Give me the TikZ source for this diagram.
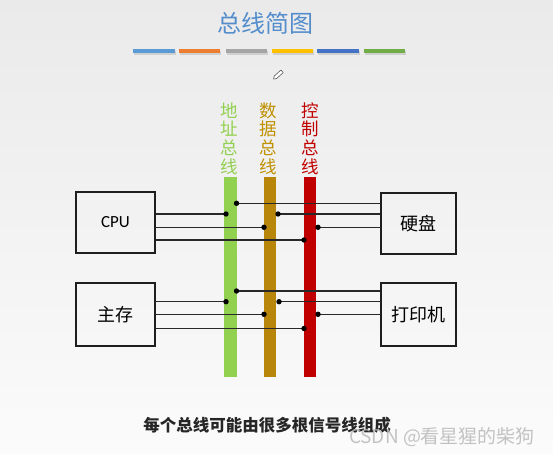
\documentclass[tikz,border=0pt]{standalone}
\usepackage{fontspec}
\setmainfont{Carlito}
\newfontfamily\cjk{Noto Sans CJK SC}
\definecolor{ttl}{RGB}{84,141,204}
\definecolor{cA}{RGB}{91,155,213}
\definecolor{cB}{RGB}{237,125,49}
\definecolor{cC}{RGB}{165,165,165}
\definecolor{cD}{RGB}{255,192,0}
\definecolor{cE}{RGB}{68,114,196}
\definecolor{cF}{RGB}{112,173,71}
\definecolor{busg}{RGB}{146,208,80}
\definecolor{busy}{RGB}{184,134,11}
\definecolor{busr}{RGB}{192,0,0}
\definecolor{labg}{RGB}{146,208,80}
\definecolor{laby}{RGB}{191,144,0}
\definecolor{labr}{RGB}{192,0,0}
\definecolor{ink}{RGB}{30,30,30}
\definecolor{wire}{RGB}{40,40,40}
\begin{document}
\begin{tikzpicture}[x=1pt,y=-1pt,
  deco/.style={fill=#1},
  busbar/.style={draw=none,fill=#1,inner sep=0pt,minimum width=12.5pt,minimum height=200pt},
  buslab/.style={text=#1,font=\cjk\fontsize{17.5}{18.6}\selectfont,align=center,inner sep=0pt},
  box/.style={draw=ink,line width=2.1pt,inner sep=0pt},
  sig/.style={draw=wire,line width=1.5pt},
  jdot/.style={fill=black}]
\useasboundingbox (0,0) rectangle (553,454);
\fill[top color={rgb,255:red,234;green,234;blue,234},bottom color={rgb,255:red,251;green,251;blue,251}] (0,0) rectangle (553,454);

% title
\node[font=\cjk\fontsize{24}{24}\selectfont,text=ttl,inner sep=0pt] (title) at (265,23) {总线简图};

% decorative colour strips
\foreach \xa/\xb/\cc in {133/175/cA,179/220/cB,226/267/cC,272/313/cD,317/359/cE,364/405/cF}{
  \fill[black,opacity=0.12] (\xa+0.5,51) rectangle (\xb+0.5,55);
  \fill[deco=\cc] (\xa,49.5) rectangle (\xb,53.5);
}

% pencil cursor
\begin{scope}[shift={(278,75)},rotate=42]
  \draw[gray!70!black,line width=0.6pt,fill=white,line join=round]
    (-6,0) -- (-3.5,-1.7) -- (5.5,-1.7) -- (5.5,1.7) -- (-3.5,1.7) -- cycle;
\end{scope}

% bus labels
\node[buslab=labg] (labA) at (229,138.5) {地\\址\\总\\线};
\node[buslab=laby] (labD) at (268.5,138.5) {数\\据\\总\\线};
\node[buslab=labr] (labC) at (310,138.5) {控\\制\\总\\线};

% bus bars
\node[busbar=busg] (busA) at (230.5,277) {};
\node[busbar=busy] (busD) at (270,277) {};
\node[busbar=busr] (busC) at (310,277) {};

% boxes
\node[box,minimum width=79pt,minimum height=61pt,font=\fontsize{17}{17}\selectfont] (cpu) at (115.5,222.5) {CPU};
\node[box,minimum width=79pt,minimum height=63pt,font=\cjk\fontsize{18}{18}\selectfont] (mem) at (115.5,314.5) {主存};
\node[box,minimum width=75pt,minimum height=61pt,font=\cjk\fontsize{18}{18}\selectfont] (disk) at (418.5,223.5) {硬盘};
\node[box,minimum width=75pt,minimum height=63pt,font=\cjk\fontsize{18}{18}\selectfont] (prn) at (418.5,314.5) {打印机};

% junction coordinates, upper group
\coordinate (u1) at (236.5,203.3);
\coordinate (u2) at (226,214);
\coordinate (u3) at (278,214);
\coordinate (u4) at (264,227.3);
\coordinate (u5) at (318,227.3);
\coordinate (u6) at (304,240);
% lower group
\coordinate (l1) at (236.5,291);
\coordinate (l2) at (226,301.7);
\coordinate (l3) at (279,301.7);
\coordinate (l4) at (264,314.3);
\coordinate (l5) at (318,314.3);
\coordinate (l6) at (304,328.5);

% wires
\draw[sig] (u1) -- (disk.west |- u1);
\draw[sig] (cpu.east |- u2) -- (u2);
\draw[sig] (u3) -- (disk.west |- u3);
\draw[sig] (cpu.east |- u4) -- (u4);
\draw[sig] (u5) -- (disk.west |- u5);
\draw[sig] (cpu.east |- u6) -- (u6);

\draw[sig] (l1) -- (prn.west |- l1);
\draw[sig] (mem.east |- l2) -- (l2);
\draw[sig] (l3) -- (prn.west |- l3);
\draw[sig] (mem.east |- l4) -- (l4);
\draw[sig] (l5) -- (prn.west |- l5);
\draw[sig] (mem.east |- l6) -- (l6);

\foreach \p in {u1,u2,u3,u4,u5,u6,l1,l2,l3,l4,l5,l6}
  \fill[jdot] (\p) circle (2.7pt);

% caption
\node[font=\cjk\bfseries\fontsize{16.5}{17}\selectfont,text=black!85,inner sep=0pt] (note) at (267,425) {每个总线可能由很多根信号线组成};
\node[font=\cjk\fontsize{19}{19}\selectfont,text=gray!55,opacity=0.85,inner sep=0pt] (wm) at (442,437) {CSDN @看星猩的柴狗};
\end{tikzpicture}
\end{document}
